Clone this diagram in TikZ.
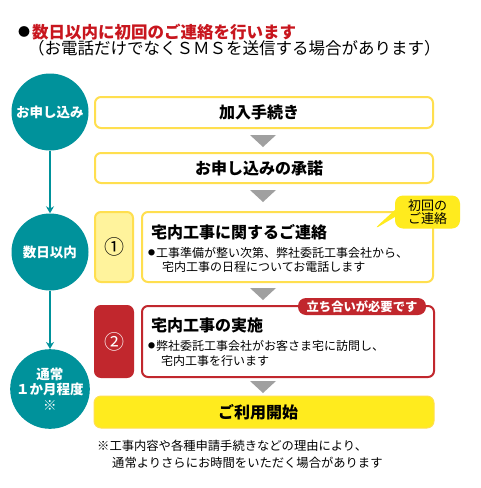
\documentclass[tikz,border=0pt]{standalone}
\usepackage{fontspec}
\setmainfont{Noto Sans CJK JP}
\usetikzlibrary{arrows.meta,shapes.callouts}
\definecolor{teal1}{HTML}{00929B}
\definecolor{ybord}{HTML}{FFDF4F}
\definecolor{ylight}{HTML}{FFF39C}
\definecolor{yfill}{HTML}{FFEB1E}
\definecolor{red1}{HTML}{C1272D}
\definecolor{gray1}{HTML}{A0A0A0}
\definecolor{titlered}{HTML}{C8161E}
\newcommand{\fs}[1]{\fontsize{#1}{#1}\selectfont}
\tikzset{
  circ/.style={circle, fill=teal1, minimum size=77pt, inner sep=0pt, text=white, font=\fs{13.5}\bfseries, align=center},
  ybox/.style={draw=ybord, line width=2pt, fill=white, rounded corners=6pt, inner sep=0pt},
  rbox/.style={draw=red1, line width=2pt, fill=white, rounded corners=6pt, inner sep=0pt},
  boxtitle/.style={font=\fs{16}\bfseries, inner sep=0pt},
  smalltxt/.style={font=\fs{12}, inner sep=0pt, anchor=west},
  bul/.style={font=\fs{7}, inner sep=0pt},
  tri/.style={fill=gray1},
  flow/.style={teal1, line width=1.6pt, -{Stealth[length=7pt,width=8pt]}}
}
\begin{document}
\begin{tikzpicture}[x=1pt,y=-1pt]
\useasboundingbox (0,0) rectangle (480,488);
\fill[white] (0,0) rectangle (480,488);
% header
\node[inner sep=0pt, font=\fs{12}] (hb) at (24,32) {●};
\node[inner sep=0pt, anchor=west, text=titlered, font=\fs{16.5}\bfseries] (h1) at (32,32) {数日以内に初回のご連絡を行います};
\node[inner sep=0pt, anchor=west, font=\fs{16.5}] (h2) at (28,48) {（お電話だけでなくＳＭＳを送信する場合があります）};
% circles
\node[circ] (c1) at (50,112) {お申し込み};
\node[circ] (c2) at (50,252) {数日以内};
\node[circ] (c3) at (50,389) {通常\\[2pt]１か月程度\\[2pt]※};
\draw[flow] (c1) -- (c2);
\draw[flow] (c2) -- (c3);
% boxes
\node[ybox, minimum width=338pt, minimum height=31pt] (b1) at (264,112.5) {};
\node[boxtitle] (t1) at (259,112.5) {加入手続き};
\fill[tri] (250,135) -- (276,135) -- (263,147) -- cycle;
\node[ybox, minimum width=338pt, minimum height=30pt] (b2) at (264,168) {};
\node[boxtitle] (t2) at (259,168) {お申し込みの承諾};
\fill[tri] (250,190) -- (276,190) -- (263,202) -- cycle;
% step 1
\node[ybox, fill=ylight, minimum width=38pt, minimum height=70pt] (n1) at (114,247) {};
\node[inner sep=0pt, font=\fs{20}] (n1t) at (114,247) {①};
\node[ybox, minimum width=291pt, minimum height=70pt] (b3) at (287.5,247) {};
\node[boxtitle, anchor=west] (t3) at (151,232) {宅内工事に関するご連絡};
\node[bul] (b3b) at (151.5,253) {●};
\node[smalltxt] (b3l1) at (156,253) {工事準備が整い次第、弊社委託工事会社から、};
\node[smalltxt] (b3l2) at (162,267) {宅内工事の日程についてお電話します};
\node[rectangle callout, fill=yfill, rounded corners=8pt, minimum width=65pt, minimum height=33pt, inner sep=0pt,
      callout absolute pointer={(373,230)}, font=\fs{13}, align=center] (co) at (427.5,212) {初回の\\ご連絡};
\fill[tri] (250,288) -- (276,288) -- (263,300) -- cycle;
% step 2
\node[rbox, fill=red1, minimum width=38pt, minimum height=71pt] (n2) at (114,341.5) {};
\node[inner sep=0pt, font=\fs{20}, text=white] (n2t) at (114,341.5) {②};
\node[rbox, minimum width=292pt, minimum height=71pt] (b4) at (288,341.5) {};
\node[boxtitle, anchor=west] (t4) at (151,325) {宅内工事の実施};
\node[bul] (b4b) at (151.5,346) {●};
\node[smalltxt] (b4l1) at (156,346) {弊社委託工事会社がお客さま宅に訪問し、};
\node[smalltxt] (b4l2) at (161,361) {宅内工事を行います};
\node[fill=red1, rounded corners=8pt, minimum width=128pt, minimum height=17pt, inner sep=0pt, text=white, font=\fs{12.3}\bfseries] (tag) at (362,306.5) {立ち合いが必要です};
\fill[tri] (250,381) -- (276,381) -- (263,393) -- cycle;
% final
\node[draw=ybord, line width=1pt, fill=yfill, rounded corners=7pt, minimum width=340pt, minimum height=32pt, inner sep=0pt] (b5) at (264,412) {};
\node[boxtitle] (t5) at (258,412) {ご利用開始};
% footer
\node[smalltxt, font=\fs{12.3}] (f1) at (97,446) {※工事内容や各種申請手続きなどの理由により、};
\node[smalltxt, font=\fs{12.3}] (f2) at (112,463) {通常よりさらにお時間をいただく場合があります};
\end{tikzpicture}
\end{document}
